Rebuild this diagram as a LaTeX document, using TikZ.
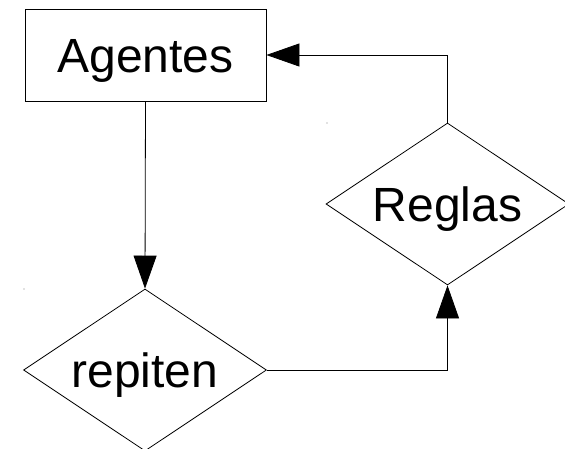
\documentclass[tikz,border=0pt]{standalone}
\usepackage{fontspec}
\setmainfont{Liberation Sans}
\usetikzlibrary{shapes.geometric,arrows.meta}
\begin{document}
\begin{tikzpicture}[x=1pt,y=1pt,
  every node/.style={font=\fontsize{48}{56}\selectfont, text height=34.4pt, text depth=0pt, inner sep=0pt},
  boxnode/.style={draw=black, line width=0.8pt, rectangle, minimum width=241pt, minimum height=92pt},
  decision/.style={draw=black, line width=0.8pt, diamond, shape aspect=1.5, minimum width=243pt, minimum height=162pt},
  conn/.style={draw=black, line width=0.8pt, -{Triangle[length=33pt,width=23pt]}}
]
\useasboundingbox (0,0) rectangle (565,-448);
\node[boxnode] (A) at (145.5,-55) {Agentes};
\node[decision] (R) at (447.5,-204) {Reglas};
\node[decision] (P) at (145,-370) {repiten};
\draw[conn] (A.south) -- (P.north);
\draw[conn] (P.east) -| (R.south);
\draw[conn] (R.north) |- (A.east);
\fill[gray] (327,-123) circle (0.6);
\fill[gray] (24,-289) circle (0.6);
\end{tikzpicture}
\end{document}
